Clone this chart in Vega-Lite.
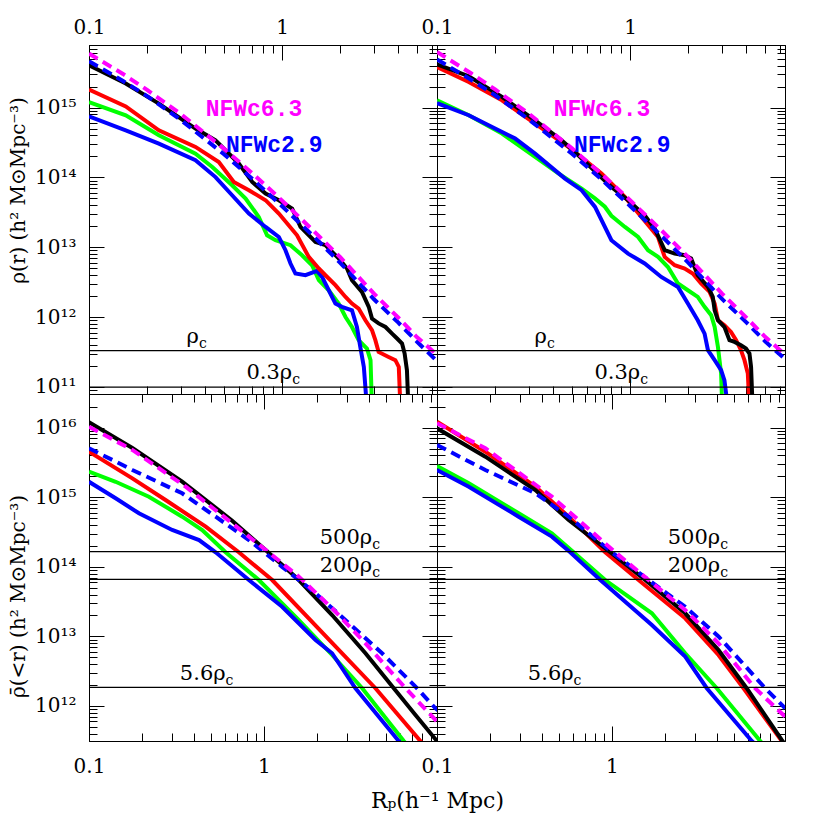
{
"$schema":"https://vega.github.io/schema/vega-lite/v6.json",
"padding":{"left":7,"top":17,"right":5,"bottom":5},
"background":"white",
"config":{
 "view":{"stroke":"black","strokeWidth":1},
 "axis":{"grid":false,"domainColor":"black","domainWidth":1,"tickColor":"black","tickWidth":1,"labelColor":"black","labelFont":"DejaVu Serif","labelFontSize":20,"titleFont":"DejaVu Serif","titleFontSize":20,"titleFontWeight":"normal","titleColor":"black"},
 "line":{"strokeWidth":4},
 "text":{"font":"DejaVu Serif","color":"black"}
},
"datasets":{
"tl":[
{"s":"g","x":0.1,"y":1.2e15},{"s":"g","x":0.155,"y":7.76e14},{"s":"g","x":0.23,"y":4.01e14},{"s":"g","x":0.356,"y":2.19e14},{"s":"g","x":0.435,"y":1.41e14},{"s":"g","x":0.551,"y":7.7e13},{"s":"g","x":0.647,"y":4.98e13},{"s":"g","x":0.757,"y":2.71e13},{"s":"g","x":0.836,"y":1.48e13},{"s":"g","x":0.924,"y":1.26e13},{"s":"g","x":1.105,"y":1.07e13},{"s":"g","x":1.268,"y":7.68e12},{"s":"g","x":1.429,"y":5.52e12},{"s":"g","x":1.549,"y":3.37e12},{"s":"g","x":1.744,"y":2.42e12},{"s":"g","x":1.963,"y":1.56e12},{"s":"g","x":2.13,"y":1.0e12},{"s":"g","x":2.3,"y":7.2e11},{"s":"g","x":2.49,"y":4.66e11},{"s":"g","x":2.75,"y":3.54e11},{"s":"g","x":2.87,"y":2.41e11},{"s":"g","x":2.92,"y":5e10},
{"s":"b","x":0.1,"y":7.5e14},{"s":"b","x":0.155,"y":4.73e14},{"s":"b","x":0.23,"y":3.05e14},{"s":"b","x":0.356,"y":1.76e14},{"s":"b","x":0.452,"y":1.01e14},{"s":"b","x":0.551,"y":5.55e13},{"s":"b","x":0.673,"y":3.03e13},{"s":"b","x":0.821,"y":1.95e13},{"s":"b","x":0.962,"y":1.4e13},{"s":"b","x":1.041,"y":9.06e12},{"s":"b","x":1.105,"y":5.84e12},{"s":"b","x":1.172,"y":4.2e12},{"s":"b","x":1.32,"y":3.97e12},{"s":"b","x":1.517,"y":4.57e12},{"s":"b","x":1.61,"y":3.75e12},{"s":"b","x":1.744,"y":2.42e12},{"s":"b","x":1.888,"y":1.56e12},{"s":"b","x":2.04,"y":1.4e12},{"s":"b","x":2.3,"y":1.25e12},{"s":"b","x":2.44,"y":7.2e11},{"s":"b","x":2.54,"y":3.73e11},{"s":"b","x":2.65,"y":1.93e11},{"s":"b","x":2.75,"y":5e10},
{"s":"r","x":0.1,"y":1.81e15},{"s":"r","x":0.155,"y":1.04e15},{"s":"r","x":0.23,"y":4.73e14},{"s":"r","x":0.356,"y":2.73e14},{"s":"r","x":0.47,"y":1.66e14},{"s":"r","x":0.562,"y":8.6e13},{"s":"r","x":0.673,"y":6.55e13},{"s":"r","x":0.821,"y":4.71e13},{"s":"r","x":0.962,"y":3.03e13},{"s":"r","x":1.195,"y":1.48e13},{"s":"r","x":1.374,"y":7.26e12},{"s":"r","x":1.549,"y":4.95e12},{"s":"r","x":1.676,"y":3.97e12},{"s":"r","x":1.888,"y":2.86e12},{"s":"r","x":2.13,"y":1.94e12},{"s":"r","x":2.3,"y":1.56e12},{"s":"r","x":2.49,"y":1.32e12},{"s":"r","x":2.7,"y":9.0e11},{"s":"r","x":2.92,"y":6.47e11},{"s":"r","x":3.04,"y":4.66e11},{"s":"r","x":3.16,"y":3.16e11},{"s":"r","x":3.56,"y":2.68e11},{"s":"r","x":3.86,"y":2.41e11},{"s":"r","x":4.02,"y":1.93e11},{"s":"r","x":4.1,"y":5e10},
{"s":"k","x":0.1,"y":4.04e15},{"s":"k","x":0.155,"y":2.21e15},{"s":"k","x":0.23,"y":1.14e15},{"s":"k","x":0.356,"y":5.0e14},{"s":"k","x":0.452,"y":3.4e14},{"s":"k","x":0.597,"y":1.58e14},{"s":"k","x":0.7,"y":8.6e13},{"s":"k","x":0.821,"y":5.87e13},{"s":"k","x":0.962,"y":4.71e13},{"s":"k","x":1.127,"y":3.58e13},{"s":"k","x":1.245,"y":1.95e13},{"s":"k","x":1.489,"y":1.19e13},{"s":"k","x":1.676,"y":1.07e13},{"s":"k","x":1.963,"y":6.9e12},{"s":"k","x":2.168,"y":4.95e12},{"s":"k","x":2.3,"y":3.37e12},{"s":"k","x":2.59,"y":2.29e12},{"s":"k","x":2.81,"y":1.4e12},{"s":"k","x":2.92,"y":9.5e11},{"s":"k","x":3.16,"y":8.1e11},{"s":"k","x":3.43,"y":7.2e11},{"s":"k","x":3.71,"y":5.8e11},{"s":"k","x":3.94,"y":4.92e11},{"s":"k","x":4.18,"y":4.18e11},{"s":"k","x":4.31,"y":3.0e11},{"s":"k","x":4.43,"y":1.73e11},{"s":"k","x":4.51,"y":5e10},
{"s":"d29","x":0.1,"y":4.6e15},{"s":"d29","x":0.15,"y":2.4e15},{"s":"d29","x":0.2,"y":1.46e15},{"s":"d29","x":0.3,"y":6.58e14},{"s":"d29","x":0.5,"y":2.15e14},{"s":"d29","x":0.7,"y":9.55e13},{"s":"d29","x":1,"y":3.86e13},{"s":"d29","x":1.5,"y":1.32e13},{"s":"d29","x":2,"y":5.97e12},{"s":"d29","x":3,"y":1.78e12},{"s":"d29","x":4,"y":8.3e11},{"s":"d29","x":5,"y":4.42e11},{"s":"d29","x":6.34,"y":2.34e11},
{"s":"d63","x":0.1,"y":5.93e15},{"s":"d63","x":0.15,"y":3.03e15},{"s":"d63","x":0.2,"y":1.79e15},{"s":"d63","x":0.3,"y":8.0e14},{"s":"d63","x":0.5,"y":2.58e14},{"s":"d63","x":0.7,"y":1.15e14},{"s":"d63","x":1,"y":4.65e13},{"s":"d63","x":1.5,"y":1.58e13},{"s":"d63","x":2,"y":7.18e12},{"s":"d63","x":3,"y":2.14e12},{"s":"d63","x":4,"y":9.77e11},{"s":"d63","x":5,"y":5.13e11},{"s":"d63","x":6.34,"y":2.88e11}
],
"tr":[
{"s":"g","x":0.1,"y":1.27e15},{"s":"g","x":0.146,"y":7.76e14},{"s":"g","x":0.217,"y":4.25e14},{"s":"g","x":0.322,"y":1.96e14},{"s":"g","x":0.425,"y":1.14e14},{"s":"g","x":0.561,"y":6.92e13},{"s":"g","x":0.657,"y":5.0e13},{"s":"g","x":0.74,"y":3.8e13},{"s":"g","x":0.8,"y":2.82e13},{"s":"g","x":0.94,"y":1.95e13},{"s":"g","x":1.1,"y":1.4e13},{"s":"g","x":1.238,"y":9.06e12},{"s":"g","x":1.395,"y":7.26e12},{"s":"g","x":1.57,"y":5.21e12},{"s":"g","x":1.769,"y":3.02e12},{"s":"g","x":1.991,"y":2.42e12},{"s":"g","x":2.24,"y":1.94e12},{"s":"g","x":2.43,"y":1.4e12},{"s":"g","x":2.63,"y":1.06e12},{"s":"g","x":2.74,"y":7.2e11},{"s":"g","x":2.85,"y":3.73e11},{"s":"g","x":2.96,"y":1.55e11},{"s":"g","x":3.0,"y":5e10},
{"s":"b","x":0.1,"y":1.16e15},{"s":"b","x":0.146,"y":7.76e14},{"s":"b","x":0.254,"y":3.6e14},{"s":"b","x":0.322,"y":2.19e14},{"s":"b","x":0.46,"y":9.6e13},{"s":"b","x":0.561,"y":6.55e13},{"s":"b","x":0.658,"y":3.78e13},{"s":"b","x":0.8,"y":1.26e13},{"s":"b","x":0.976,"y":8.1e12},{"s":"b","x":1.19,"y":5.84e12},{"s":"b","x":1.45,"y":3.75e12},{"s":"b","x":1.769,"y":2.7e12},{"s":"b","x":1.991,"y":1.56e12},{"s":"b","x":2.24,"y":9.0e11},{"s":"b","x":2.43,"y":5.8e11},{"s":"b","x":2.53,"y":3.35e11},{"s":"b","x":2.74,"y":2.41e11},{"s":"b","x":2.96,"y":1.73e11},{"s":"b","x":3.08,"y":1.24e11},{"s":"b","x":3.21,"y":5e10},
{"s":"r","x":0.1,"y":3.8e15},{"s":"r","x":0.146,"y":2.33e15},{"s":"r","x":0.217,"y":1.27e15},{"s":"r","x":0.322,"y":5.9e14},{"s":"r","x":0.479,"y":2.73e14},{"s":"r","x":0.711,"y":1.14e14},{"s":"r","x":0.939,"y":5.25e13},{"s":"r","x":1.264,"y":1.95e13},{"s":"r","x":1.395,"y":1.4e13},{"s":"r","x":1.51,"y":7.26e12},{"s":"r","x":1.702,"y":5.52e12},{"s":"r","x":1.917,"y":4.95e12},{"s":"r","x":2.11,"y":4.2e12},{"s":"r","x":2.33,"y":3.02e12},{"s":"r","x":2.58,"y":2.29e12},{"s":"r","x":2.74,"y":1.56e12},{"s":"r","x":2.85,"y":9.0e11},{"s":"r","x":3.08,"y":7.64e11},{"s":"r","x":3.33,"y":6.12e11},{"s":"r","x":3.54,"y":4.66e11},{"s":"r","x":3.75,"y":3.35e11},{"s":"r","x":3.91,"y":2.41e11},{"s":"r","x":4.07,"y":1.55e11},{"s":"r","x":4.15,"y":5e10},
{"s":"k","x":0.1,"y":4.17e15},{"s":"k","x":0.146,"y":2.81e15},{"s":"k","x":0.217,"y":1.42e15},{"s":"k","x":0.322,"y":6.58e14},{"s":"k","x":0.442,"y":3.4e14},{"s":"k","x":0.539,"y":2.07e14},{"s":"k","x":0.8,"y":7.3e13},{"s":"k","x":0.976,"y":4.71e13},{"s":"k","x":1.19,"y":2.87e13},{"s":"k","x":1.341,"y":1.85e13},{"s":"k","x":1.51,"y":9.06e12},{"s":"k","x":1.702,"y":8.1e12},{"s":"k","x":1.917,"y":7.67e12},{"s":"k","x":2.07,"y":6.89e12},{"s":"k","x":2.24,"y":3.97e12},{"s":"k","x":2.53,"y":2.7e12},{"s":"k","x":2.68,"y":1.94e12},{"s":"k","x":2.74,"y":1.25e12},{"s":"k","x":2.85,"y":9.0e11},{"s":"k","x":3.08,"y":7.2e11},{"s":"k","x":3.27,"y":4.66e11},{"s":"k","x":3.47,"y":4.4e11},{"s":"k","x":3.75,"y":3.94e11},{"s":"k","x":3.98,"y":3.54e11},{"s":"k","x":4.15,"y":3.0e11},{"s":"k","x":4.23,"y":1.93e11},{"s":"k","x":4.31,"y":5e10},
{"s":"d29","x":0.1,"y":4.9e15},{"s":"d29","x":0.15,"y":2.5e15},{"s":"d29","x":0.2,"y":1.5e15},{"s":"d29","x":0.3,"y":6.7e14},{"s":"d29","x":0.5,"y":2.18e14},{"s":"d29","x":0.7,"y":9.7e13},{"s":"d29","x":1,"y":3.9e13},{"s":"d29","x":1.5,"y":1.33e13},{"s":"d29","x":2,"y":6.0e12},{"s":"d29","x":3,"y":1.8e12},{"s":"d29","x":4,"y":8.4e11},{"s":"d29","x":5,"y":4.5e11},{"s":"d29","x":6.34,"y":2.5e11},
{"s":"d63","x":0.1,"y":6.25e15},{"s":"d63","x":0.15,"y":3.1e15},{"s":"d63","x":0.2,"y":1.82e15},{"s":"d63","x":0.3,"y":8.1e14},{"s":"d63","x":0.5,"y":2.6e14},{"s":"d63","x":0.7,"y":1.16e14},{"s":"d63","x":1,"y":4.7e13},{"s":"d63","x":1.5,"y":1.6e13},{"s":"d63","x":2,"y":7.2e12},{"s":"d63","x":3,"y":2.15e12},{"s":"d63","x":4,"y":9.8e11},{"s":"d63","x":5,"y":5.2e11},{"s":"d63","x":6.34,"y":2.9e11}
],
"bl":[
{"s":"g","x":0.1,"y":2.33e15},{"s":"g","x":0.142,"y":1.67e15},{"s":"g","x":0.22,"y":1.02e15},{"s":"g","x":0.341,"y":5.26e14},{"s":"g","x":0.444,"y":3.39e14},{"s":"g","x":0.604,"y":1.62e14},{"s":"g","x":0.936,"y":6.47e13},{"s":"g","x":1.585,"y":1.72e13},{"s":"g","x":2.455,"y":5.41e12},{"s":"g","x":3.65,"y":1.8e12},{"s":"g","x":6.31,"y":3.14e11},{"s":"g","x":7.5,"y":1.9e11},
{"s":"b","x":0.1,"y":1.67e15},{"s":"b","x":0.142,"y":9.66e14},{"s":"b","x":0.193,"y":5.89e14},{"s":"b","x":0.299,"y":3.39e14},{"s":"b","x":0.426,"y":2.43e14},{"s":"b","x":0.53,"y":1.62e14},{"s":"b","x":0.821,"y":6.47e13},{"s":"b","x":1.272,"y":2.67e13},{"s":"b","x":1.974,"y":8.89e12},{"s":"b","x":2.455,"y":5.73e12},{"s":"b","x":3.34,"y":1.8e12},{"s":"b","x":5.9,"y":3.14e11},{"s":"b","x":7,"y":1.9e11},
{"s":"r","x":0.1,"y":4.52e15},{"s":"r","x":0.177,"y":1.87e15},{"s":"r","x":0.274,"y":9.14e14},{"s":"r","x":0.465,"y":3.78e14},{"s":"r","x":0.719,"y":1.62e14},{"s":"r","x":1.116,"y":6.47e13},{"s":"r","x":2.455,"y":8.05e12},{"s":"r","x":4.345,"y":1.8e12},{"s":"r","x":7.85,"y":3.14e11},{"s":"r","x":9,"y":2.0e11},
{"s":"k","x":0.1,"y":1.2e16},{"s":"k","x":0.177,"y":5.1e15},{"s":"k","x":0.341,"y":1.68e15},{"s":"k","x":0.659,"y":4.6e14},{"s":"k","x":1.023,"y":1.75e14},{"s":"k","x":1.585,"y":6.47e13},{"s":"k","x":2.455,"y":2.03e13},{"s":"k","x":3.81,"y":5.73e12},{"s":"k","x":5.53,"y":1.8e12},{"s":"k","x":7.36,"y":7.43e11},{"s":"k","x":9.57,"y":3.33e11},{"s":"k","x":10,"y":3.0e11},
{"s":"d29","x":0.1,"y":5.06e15},{"s":"d29","x":0.177,"y":2.47e15},{"s":"d29","x":0.341,"y":1.14e15},{"s":"d29","x":0.53,"y":5.26e14},{"s":"d29","x":0.821,"y":2.43e14},{"s":"d29","x":1.272,"y":1.0e14},{"s":"d29","x":1.974,"y":4.17e13},{"s":"d29","x":3.06,"y":1.55e13},{"s":"d29","x":4.74,"y":5.73e12},{"s":"d29","x":7.36,"y":1.9e12},{"s":"d29","x":9.57,"y":9.27e11},{"s":"d29","x":10,"y":8.5e11},
{"s":"d63","x":0.1,"y":1.03e16},{"s":"d63","x":0.177,"y":4.79e15},{"s":"d63","x":0.357,"y":1.42e15},{"s":"d63","x":0.659,"y":4.23e14},{"s":"d63","x":1.023,"y":1.75e14},{"s":"d63","x":1.585,"y":7.23e13},{"s":"d63","x":2.455,"y":2.54e13},{"s":"d63","x":3.81,"y":7.96e12},{"s":"d63","x":6.46,"y":1.8e12},{"s":"d63","x":9.57,"y":6.3e11},{"s":"d63","x":10,"y":5.6e11}
],
"br":[
{"s":"g","x":0.1,"y":2.82e15},{"s":"g","x":0.152,"y":1.59e15},{"s":"g","x":0.293,"y":5.89e14},{"s":"g","x":0.454,"y":3.03e14},{"s":"g","x":0.604,"y":1.62e14},{"s":"g","x":0.916,"y":6.47e13},{"s":"g","x":1.693,"y":2.15e13},{"s":"g","x":2.626,"y":5.73e12},{"s":"g","x":3.98,"y":1.8e12},{"s":"g","x":7.05,"y":3.14e11},{"s":"g","x":8,"y":2.2e11},
{"s":"b","x":0.1,"y":2.47e15},{"s":"b","x":0.152,"y":1.42e15},{"s":"b","x":0.293,"y":5.26e14},{"s":"b","x":0.454,"y":2.72e14},{"s":"b","x":0.578,"y":1.62e14},{"s":"b","x":0.859,"y":6.47e13},{"s":"b","x":1.693,"y":1.46e13},{"s":"b","x":2.626,"y":5.12e12},{"s":"b","x":3.49,"y":1.8e12},{"s":"b","x":6.31,"y":3.14e11},{"s":"b","x":7,"y":2.5e11},
{"s":"r","x":0.1,"y":1.22e16},{"s":"r","x":0.189,"y":4.52e15},{"s":"r","x":0.365,"y":1.42e15},{"s":"r","x":0.566,"y":5.26e14},{"s":"r","x":0.916,"y":1.62e14},{"s":"r","x":1.421,"y":6.47e13},{"s":"r","x":2.626,"y":1.82e13},{"s":"r","x":4.07,"y":5.41e12},{"s":"r","x":5.66,"y":1.8e12},{"s":"r","x":9.36,"y":3.14e11},{"s":"r","x":10,"y":2.4e11},
{"s":"k","x":0.1,"y":9.8e15},{"s":"k","x":0.189,"y":3.83e15},{"s":"k","x":0.365,"y":1.27e15},{"s":"k","x":0.566,"y":4.71e14},{"s":"k","x":0.979,"y":1.62e14},{"s":"k","x":1.552,"y":6.47e13},{"s":"k","x":2.626,"y":2.15e13},{"s":"k","x":4.07,"y":6.38e12},{"s":"k","x":5.9,"y":1.8e12},{"s":"k","x":9.36,"y":3.25e11},{"s":"k","x":10,"y":2.6e11},
{"s":"d29","x":0.1,"y":5.64e15},{"s":"d29","x":0.189,"y":2.47e15},{"s":"d29","x":0.365,"y":1.14e15},{"s":"d29","x":0.566,"y":5.26e14},{"s":"d29","x":1.0,"y":1.62e14},{"s":"d29","x":1.62,"y":6.47e13},{"s":"d29","x":2.626,"y":2.67e13},{"s":"d29","x":4.07,"y":1.0e13},{"s":"d29","x":7.53,"y":1.8e12},{"s":"d29","x":9.79,"y":9.27e11},
{"s":"d63","x":0.1,"y":1.16e16},{"s":"d63","x":0.189,"y":5.06e15},{"s":"d63","x":0.454,"y":1.02e15},{"s":"d63","x":1.046,"y":1.62e14},{"s":"d63","x":1.62,"y":6.47e13},{"s":"d63","x":2.626,"y":2.4e13},{"s":"d63","x":4.07,"y":7.96e12},{"s":"d63","x":6.59,"y":1.8e12},{"s":"d63","x":9.79,"y":7.03e11}
],
"ht":[{"y":3.3e11},{"y":9.9e10}],
"hb":[{"y":1.65e14},{"y":6.6e13},{"y":1.85e12}],
"lt":[{"x":0.371,"y":4.22e11,"t":"ρ"},{"x":1.127,"y":1.31e11,"t":"0.3ρ"}],
"lb":[{"x":4.16,"y":2.13e14,"t":"500ρ"},{"x":4.16,"y":8.36e13,"t":"200ρ"},{"x":0.604,"y":2.37e12,"t":"5.6ρ"}],
"nl":[{"x":0.715,"y":7.5e14,"t":"NFWc6.3","s":"d63"},{"x":0.91,"y":2.31e14,"t":"NFWc2.9","s":"d29"}]
},
"columns":2,
"spacing":0,
"bounds":"flush",
"concat":[
 {"width":348,"height":349,"data":{"name":"tl"},
  "resolve":{"axis":{"x":"independent","y":"independent"}},
  "layer":[
   {"transform":[{"filter":"datum.s==='g'"}],"mark":{"type":"line","color":"#00ff00","clip":true},
    "encoding":{"x":{"field":"x","type":"quantitative","scale":{"type":"log","domain":[0.1,6.34],"nice":false},"axis":{"orient":"bottom","values":[0.1,1],"tickSize":-15,"labels":false,"title":null}},
     "y":{"field":"y","type":"quantitative","scale":{"type":"log","domain":[7.9e10,7.87e15],"nice":false},"axis":{"orient":"left","values":[1e11,1e12,1e13,1e14,1e15],"tickSize":-15,"labelPadding":28,"labelOverlap":false,"labelExpr":"datum.value < 5e11 ? '10¹¹' : datum.value < 5e12 ? '10¹²' : datum.value < 5e13 ? '10¹³' : datum.value < 5e14 ? '10¹⁴' : '10¹⁵'","title":"ρ(r)  (h² M⊙Mpc⁻³)","titleX":-71,"titleY":145,"titleAngle":-90,"titleBaseline":"middle","titleAlign":"center"}}}},
   {"transform":[{"filter":"datum.s==='b'"}],"mark":{"type":"line","color":"#0000ff","clip":true},
    "encoding":{"x":{"field":"x","type":"quantitative","scale":{"type":"log","domain":[0.1,6.34],"nice":false},"axis":{"orient":"bottom","values":[0.2,0.3,0.4,0.5,0.6,0.7,0.8,0.9,2,3,4,5,6],"tickSize":-8,"labels":false,"domain":false,"title":null}},
     "y":{"field":"y","type":"quantitative","scale":{"type":"log","domain":[7.9e10,7.87e15],"nice":false},"axis":{"orient":"left","values":[8e10,9e10,2e11,3e11,4e11,5e11,6e11,7e11,8e11,9e11,2e12,3e12,4e12,5e12,6e12,7e12,8e12,9e12,2e13,3e13,4e13,5e13,6e13,7e13,8e13,9e13,2e14,3e14,4e14,5e14,6e14,7e14,8e14,9e14,2e15,3e15,4e15,5e15,6e15,7e15],"tickSize":-8,"labels":false,"domain":false,"title":null}}}},
   {"transform":[{"filter":"datum.s==='r'"}],"mark":{"type":"line","color":"#ff0000","clip":true},
    "encoding":{"x":{"field":"x","type":"quantitative","scale":{"type":"log","domain":[0.1,6.34],"nice":false},"axis":{"orient":"top","values":[0.1,1],"tickSize":-15,"labelPadding":22.5,"labelFlush":false,"labelOverlap":false,"labelExpr":"datum.value < 0.5 ? '0.1' : '1'","title":null}},
     "y":{"field":"y","type":"quantitative","scale":{"type":"log","domain":[7.9e10,7.87e15],"nice":false},"axis":{"orient":"right","values":[1e11,1e12,1e13,1e14,1e15],"tickSize":-15,"labels":false,"title":null}}}},
   {"transform":[{"filter":"datum.s==='k'"}],"mark":{"type":"line","color":"#000000","clip":true},
    "encoding":{"x":{"field":"x","type":"quantitative","scale":{"type":"log","domain":[0.1,6.34],"nice":false},"axis":{"orient":"top","values":[0.2,0.3,0.4,0.5,0.6,0.7,0.8,0.9,2,3,4,5,6],"tickSize":-8,"labels":false,"domain":false,"title":null}},
     "y":{"field":"y","type":"quantitative","scale":{"type":"log","domain":[7.9e10,7.87e15],"nice":false},"axis":{"orient":"right","values":[8e10,9e10,2e11,3e11,4e11,5e11,6e11,7e11,8e11,9e11,2e12,3e12,4e12,5e12,6e12,7e12,8e12,9e12,2e13,3e13,4e13,5e13,6e13,7e13,8e13,9e13,2e14,3e14,4e14,5e14,6e14,7e14,8e14,9e14,2e15,3e15,4e15,5e15,6e15,7e15],"tickSize":-8,"labels":false,"domain":false,"title":null}}}},
   {"transform":[{"filter":"datum.s==='d29'"}],"mark":{"type":"line","color":"#0000ff","strokeDash":[10,6],"clip":true},
    "encoding":{"x":{"field":"x","type":"quantitative","scale":{"type":"log","domain":[0.1,6.34],"nice":false},"axis":null},"y":{"field":"y","type":"quantitative","scale":{"type":"log","domain":[7.9e10,7.87e15],"nice":false},"axis":null}}},
   {"transform":[{"filter":"datum.s==='d63'"}],"mark":{"type":"line","color":"#ff00ff","strokeDash":[10,6],"clip":true},
    "encoding":{"x":{"field":"x","type":"quantitative","scale":{"type":"log","domain":[0.1,6.34],"nice":false},"axis":null},"y":{"field":"y","type":"quantitative","scale":{"type":"log","domain":[7.9e10,7.87e15],"nice":false},"axis":null}}},
   {"data":{"name":"ht"},"mark":{"type":"rule","color":"black","strokeWidth":1.2},
    "encoding":{"y":{"field":"y","type":"quantitative","scale":{"type":"log","domain":[7.9e10,7.87e15],"nice":false},"axis":null}}},
   {"data":{"name":"lt"},"mark":{"type":"text","align":"right","baseline":"alphabetic","fontSize":21},
    "encoding":{"x":{"field":"x","type":"quantitative","scale":{"type":"log","domain":[0.1,6.34],"nice":false},"axis":null},"y":{"field":"y","type":"quantitative","scale":{"type":"log","domain":[7.9e10,7.87e15],"nice":false},"axis":null},"text":{"field":"t"}}},
   {"data":{"name":"lt"},"mark":{"type":"text","align":"left","baseline":"alphabetic","fontSize":14,"dy":5,"text":"c"},
    "encoding":{"x":{"field":"x","type":"quantitative","scale":{"type":"log","domain":[0.1,6.34],"nice":false},"axis":null},"y":{"field":"y","type":"quantitative","scale":{"type":"log","domain":[7.9e10,7.87e15],"nice":false},"axis":null}}},
   {"data":{"name":"nl"},"mark":{"type":"text","align":"center","baseline":"alphabetic","font":"Liberation Mono","fontWeight":"bold","fontSize":23},
    "encoding":{"x":{"field":"x","type":"quantitative","scale":{"type":"log","domain":[0.1,6.34],"nice":false},"axis":null},"y":{"field":"y","type":"quantitative","scale":{"type":"log","domain":[7.9e10,7.87e15],"nice":false},"axis":null},"text":{"field":"t"},
     "color":{"field":"s","type":"nominal","scale":{"domain":["d63","d29"],"range":["#ff00ff","#0000ff"]},"legend":null}}}
  ]},
 {"width":348,"height":349,"data":{"name":"tr"},
  "resolve":{"axis":{"x":"independent","y":"independent"}},
  "layer":[
   {"transform":[{"filter":"datum.s==='g'"}],"mark":{"type":"line","color":"#00ff00","clip":true},
    "encoding":{"x":{"field":"x","type":"quantitative","scale":{"type":"log","domain":[0.1,6.34],"nice":false},"axis":{"orient":"bottom","values":[0.1,1],"tickSize":-15,"labels":false,"title":null}},
     "y":{"field":"y","type":"quantitative","scale":{"type":"log","domain":[7.9e10,7.87e15],"nice":false},"axis":{"orient":"left","values":[1e11,1e12,1e13,1e14,1e15],"tickSize":-15,"labels":false,"title":null}}}},
   {"transform":[{"filter":"datum.s==='b'"}],"mark":{"type":"line","color":"#0000ff","clip":true},
    "encoding":{"x":{"field":"x","type":"quantitative","scale":{"type":"log","domain":[0.1,6.34],"nice":false},"axis":{"orient":"bottom","values":[0.2,0.3,0.4,0.5,0.6,0.7,0.8,0.9,2,3,4,5,6],"tickSize":-8,"labels":false,"domain":false,"title":null}},
     "y":{"field":"y","type":"quantitative","scale":{"type":"log","domain":[7.9e10,7.87e15],"nice":false},"axis":{"orient":"left","values":[8e10,9e10,2e11,3e11,4e11,5e11,6e11,7e11,8e11,9e11,2e12,3e12,4e12,5e12,6e12,7e12,8e12,9e12,2e13,3e13,4e13,5e13,6e13,7e13,8e13,9e13,2e14,3e14,4e14,5e14,6e14,7e14,8e14,9e14,2e15,3e15,4e15,5e15,6e15,7e15],"tickSize":-8,"labels":false,"domain":false,"title":null}}}},
   {"transform":[{"filter":"datum.s==='r'"}],"mark":{"type":"line","color":"#ff0000","clip":true},
    "encoding":{"x":{"field":"x","type":"quantitative","scale":{"type":"log","domain":[0.1,6.34],"nice":false},"axis":{"orient":"top","values":[0.1,1],"tickSize":-15,"labelPadding":22.5,"labelFlush":false,"labelOverlap":false,"labelExpr":"datum.value < 0.5 ? '0.1' : '1'","title":null}},
     "y":{"field":"y","type":"quantitative","scale":{"type":"log","domain":[7.9e10,7.87e15],"nice":false},"axis":{"orient":"right","values":[1e11,1e12,1e13,1e14,1e15],"tickSize":-15,"labels":false,"title":null}}}},
   {"transform":[{"filter":"datum.s==='k'"}],"mark":{"type":"line","color":"#000000","clip":true},
    "encoding":{"x":{"field":"x","type":"quantitative","scale":{"type":"log","domain":[0.1,6.34],"nice":false},"axis":{"orient":"top","values":[0.2,0.3,0.4,0.5,0.6,0.7,0.8,0.9,2,3,4,5,6],"tickSize":-8,"labels":false,"domain":false,"title":null}},
     "y":{"field":"y","type":"quantitative","scale":{"type":"log","domain":[7.9e10,7.87e15],"nice":false},"axis":{"orient":"right","values":[8e10,9e10,2e11,3e11,4e11,5e11,6e11,7e11,8e11,9e11,2e12,3e12,4e12,5e12,6e12,7e12,8e12,9e12,2e13,3e13,4e13,5e13,6e13,7e13,8e13,9e13,2e14,3e14,4e14,5e14,6e14,7e14,8e14,9e14,2e15,3e15,4e15,5e15,6e15,7e15],"tickSize":-8,"labels":false,"domain":false,"title":null}}}},
   {"transform":[{"filter":"datum.s==='d29'"}],"mark":{"type":"line","color":"#0000ff","strokeDash":[10,6],"clip":true},
    "encoding":{"x":{"field":"x","type":"quantitative","scale":{"type":"log","domain":[0.1,6.34],"nice":false},"axis":null},"y":{"field":"y","type":"quantitative","scale":{"type":"log","domain":[7.9e10,7.87e15],"nice":false},"axis":null}}},
   {"transform":[{"filter":"datum.s==='d63'"}],"mark":{"type":"line","color":"#ff00ff","strokeDash":[10,6],"clip":true},
    "encoding":{"x":{"field":"x","type":"quantitative","scale":{"type":"log","domain":[0.1,6.34],"nice":false},"axis":null},"y":{"field":"y","type":"quantitative","scale":{"type":"log","domain":[7.9e10,7.87e15],"nice":false},"axis":null}}},
   {"data":{"name":"ht"},"mark":{"type":"rule","color":"black","strokeWidth":1.2},
    "encoding":{"y":{"field":"y","type":"quantitative","scale":{"type":"log","domain":[7.9e10,7.87e15],"nice":false},"axis":null}}},
   {"data":{"name":"lt"},"mark":{"type":"text","align":"right","baseline":"alphabetic","fontSize":21},
    "encoding":{"x":{"field":"x","type":"quantitative","scale":{"type":"log","domain":[0.1,6.34],"nice":false},"axis":null},"y":{"field":"y","type":"quantitative","scale":{"type":"log","domain":[7.9e10,7.87e15],"nice":false},"axis":null},"text":{"field":"t"}}},
   {"data":{"name":"lt"},"mark":{"type":"text","align":"left","baseline":"alphabetic","fontSize":14,"dy":5,"text":"c"},
    "encoding":{"x":{"field":"x","type":"quantitative","scale":{"type":"log","domain":[0.1,6.34],"nice":false},"axis":null},"y":{"field":"y","type":"quantitative","scale":{"type":"log","domain":[7.9e10,7.87e15],"nice":false},"axis":null}}},
   {"data":{"name":"nl"},"mark":{"type":"text","align":"center","baseline":"alphabetic","font":"Liberation Mono","fontWeight":"bold","fontSize":23},
    "encoding":{"x":{"field":"x","type":"quantitative","scale":{"type":"log","domain":[0.1,6.34],"nice":false},"axis":null},"y":{"field":"y","type":"quantitative","scale":{"type":"log","domain":[7.9e10,7.87e15],"nice":false},"axis":null},"text":{"field":"t"},
     "color":{"field":"s","type":"nominal","scale":{"domain":["d63","d29"],"range":["#ff00ff","#0000ff"]},"legend":null}}}
  ]},
 {"width":348,"height":347,"data":{"name":"bl"},
  "resolve":{"axis":{"x":"independent","y":"independent"}},
  "layer":[
   {"transform":[{"filter":"datum.s==='g'"}],"mark":{"type":"line","color":"#00ff00","clip":true},
    "encoding":{"x":{"field":"x","type":"quantitative","scale":{"type":"log","domain":[0.1,9.77],"nice":false},"axis":{"orient":"bottom","values":[0.1,1],"tickSize":-15,"labelPadding":30,"labelFlush":false,"labelOverlap":false,"labelExpr":"datum.value < 0.5 ? '0.1' : '1'","title":"Rₚ(h⁻¹ Mpc)","titleFontSize":22,"titleX":348,"titleY":66,"titleBaseline":"alphabetic","titleAlign":"center"}},
     "y":{"field":"y","type":"quantitative","scale":{"type":"log","domain":[3.14e11,3.05e16],"nice":false},"axis":{"orient":"left","values":[1e12,1e13,1e14,1e15,1e16],"tickSize":-15,"labelPadding":28,"labelOverlap":false,"labelExpr":"datum.value < 5e12 ? '10¹²' : datum.value < 5e13 ? '10¹³' : datum.value < 5e14 ? '10¹⁴' : datum.value < 5e15 ? '10¹⁵' : '10¹⁶'","title":"ρ̄(<r)  (h² M⊙Mpc⁻³)","titleX":-71,"titleY":202,"titleAngle":-90,"titleBaseline":"middle","titleAlign":"center"}}}},
   {"transform":[{"filter":"datum.s==='b'"}],"mark":{"type":"line","color":"#0000ff","clip":true},
    "encoding":{"x":{"field":"x","type":"quantitative","scale":{"type":"log","domain":[0.1,9.77],"nice":false},"axis":{"orient":"bottom","values":[0.2,0.3,0.4,0.5,0.6,0.7,0.8,0.9,2,3,4,5,6,7,8,9],"tickSize":-8,"labels":false,"domain":false,"title":null}},
     "y":{"field":"y","type":"quantitative","scale":{"type":"log","domain":[3.14e11,3.05e16],"nice":false},"axis":{"orient":"left","values":[4e11,5e11,6e11,7e11,8e11,9e11,2e12,3e12,4e12,5e12,6e12,7e12,8e12,9e12,2e13,3e13,4e13,5e13,6e13,7e13,8e13,9e13,2e14,3e14,4e14,5e14,6e14,7e14,8e14,9e14,2e15,3e15,4e15,5e15,6e15,7e15,8e15,9e15,2e16,3e16],"tickSize":-8,"labels":false,"domain":false,"title":null}}}},
   {"transform":[{"filter":"datum.s==='r'"}],"mark":{"type":"line","color":"#ff0000","clip":true},
    "encoding":{"x":{"field":"x","type":"quantitative","scale":{"type":"log","domain":[0.1,9.77],"nice":false},"axis":{"orient":"top","values":[0.1,1],"tickSize":-15,"labels":false,"title":null}},
     "y":{"field":"y","type":"quantitative","scale":{"type":"log","domain":[3.14e11,3.05e16],"nice":false},"axis":{"orient":"right","values":[1e12,1e13,1e14,1e15,1e16],"tickSize":-15,"labels":false,"title":null}}}},
   {"transform":[{"filter":"datum.s==='k'"}],"mark":{"type":"line","color":"#000000","clip":true},
    "encoding":{"x":{"field":"x","type":"quantitative","scale":{"type":"log","domain":[0.1,9.77],"nice":false},"axis":{"orient":"top","values":[0.2,0.3,0.4,0.5,0.6,0.7,0.8,0.9,2,3,4,5,6,7,8,9],"tickSize":-8,"labels":false,"domain":false,"title":null}},
     "y":{"field":"y","type":"quantitative","scale":{"type":"log","domain":[3.14e11,3.05e16],"nice":false},"axis":{"orient":"right","values":[4e11,5e11,6e11,7e11,8e11,9e11,2e12,3e12,4e12,5e12,6e12,7e12,8e12,9e12,2e13,3e13,4e13,5e13,6e13,7e13,8e13,9e13,2e14,3e14,4e14,5e14,6e14,7e14,8e14,9e14,2e15,3e15,4e15,5e15,6e15,7e15,8e15,9e15,2e16,3e16],"tickSize":-8,"labels":false,"domain":false,"title":null}}}},
   {"transform":[{"filter":"datum.s==='d29'"}],"mark":{"type":"line","color":"#0000ff","strokeDash":[10,6],"clip":true},
    "encoding":{"x":{"field":"x","type":"quantitative","scale":{"type":"log","domain":[0.1,9.77],"nice":false},"axis":null},"y":{"field":"y","type":"quantitative","scale":{"type":"log","domain":[3.14e11,3.05e16],"nice":false},"axis":null}}},
   {"transform":[{"filter":"datum.s==='d63'"}],"mark":{"type":"line","color":"#ff00ff","strokeDash":[10,6],"clip":true},
    "encoding":{"x":{"field":"x","type":"quantitative","scale":{"type":"log","domain":[0.1,9.77],"nice":false},"axis":null},"y":{"field":"y","type":"quantitative","scale":{"type":"log","domain":[3.14e11,3.05e16],"nice":false},"axis":null}}},
   {"data":{"name":"hb"},"mark":{"type":"rule","color":"black","strokeWidth":1.2},
    "encoding":{"y":{"field":"y","type":"quantitative","scale":{"type":"log","domain":[3.14e11,3.05e16],"nice":false},"axis":null}}},
   {"data":{"name":"lb"},"mark":{"type":"text","align":"right","baseline":"alphabetic","fontSize":21},
    "encoding":{"x":{"field":"x","type":"quantitative","scale":{"type":"log","domain":[0.1,9.77],"nice":false},"axis":null},"y":{"field":"y","type":"quantitative","scale":{"type":"log","domain":[3.14e11,3.05e16],"nice":false},"axis":null},"text":{"field":"t"}}},
   {"data":{"name":"lb"},"mark":{"type":"text","align":"left","baseline":"alphabetic","fontSize":14,"dy":5,"text":"c"},
    "encoding":{"x":{"field":"x","type":"quantitative","scale":{"type":"log","domain":[0.1,9.77],"nice":false},"axis":null},"y":{"field":"y","type":"quantitative","scale":{"type":"log","domain":[3.14e11,3.05e16],"nice":false},"axis":null}}}
  ]},
 {"width":348,"height":347,"data":{"name":"br"},
  "resolve":{"axis":{"x":"independent","y":"independent"}},
  "layer":[
   {"transform":[{"filter":"datum.s==='g'"}],"mark":{"type":"line","color":"#00ff00","clip":true},
    "encoding":{"x":{"field":"x","type":"quantitative","scale":{"type":"log","domain":[0.1,9.77],"nice":false},"axis":{"orient":"bottom","values":[0.1,1],"tickSize":-15,"labelPadding":30,"labelFlush":false,"labelOverlap":false,"labelExpr":"datum.value < 0.5 ? '0.1' : '1'","title":null}},
     "y":{"field":"y","type":"quantitative","scale":{"type":"log","domain":[3.14e11,3.05e16],"nice":false},"axis":{"orient":"left","values":[1e12,1e13,1e14,1e15,1e16],"tickSize":-15,"labels":false,"title":null}}}},
   {"transform":[{"filter":"datum.s==='b'"}],"mark":{"type":"line","color":"#0000ff","clip":true},
    "encoding":{"x":{"field":"x","type":"quantitative","scale":{"type":"log","domain":[0.1,9.77],"nice":false},"axis":{"orient":"bottom","values":[0.2,0.3,0.4,0.5,0.6,0.7,0.8,0.9,2,3,4,5,6,7,8,9],"tickSize":-8,"labels":false,"domain":false,"title":null}},
     "y":{"field":"y","type":"quantitative","scale":{"type":"log","domain":[3.14e11,3.05e16],"nice":false},"axis":{"orient":"left","values":[4e11,5e11,6e11,7e11,8e11,9e11,2e12,3e12,4e12,5e12,6e12,7e12,8e12,9e12,2e13,3e13,4e13,5e13,6e13,7e13,8e13,9e13,2e14,3e14,4e14,5e14,6e14,7e14,8e14,9e14,2e15,3e15,4e15,5e15,6e15,7e15,8e15,9e15,2e16,3e16],"tickSize":-8,"labels":false,"domain":false,"title":null}}}},
   {"transform":[{"filter":"datum.s==='r'"}],"mark":{"type":"line","color":"#ff0000","clip":true},
    "encoding":{"x":{"field":"x","type":"quantitative","scale":{"type":"log","domain":[0.1,9.77],"nice":false},"axis":{"orient":"top","values":[0.1,1],"tickSize":-15,"labels":false,"title":null}},
     "y":{"field":"y","type":"quantitative","scale":{"type":"log","domain":[3.14e11,3.05e16],"nice":false},"axis":{"orient":"right","values":[1e12,1e13,1e14,1e15,1e16],"tickSize":-15,"labels":false,"title":null}}}},
   {"transform":[{"filter":"datum.s==='k'"}],"mark":{"type":"line","color":"#000000","clip":true},
    "encoding":{"x":{"field":"x","type":"quantitative","scale":{"type":"log","domain":[0.1,9.77],"nice":false},"axis":{"orient":"top","values":[0.2,0.3,0.4,0.5,0.6,0.7,0.8,0.9,2,3,4,5,6,7,8,9],"tickSize":-8,"labels":false,"domain":false,"title":null}},
     "y":{"field":"y","type":"quantitative","scale":{"type":"log","domain":[3.14e11,3.05e16],"nice":false},"axis":{"orient":"right","values":[4e11,5e11,6e11,7e11,8e11,9e11,2e12,3e12,4e12,5e12,6e12,7e12,8e12,9e12,2e13,3e13,4e13,5e13,6e13,7e13,8e13,9e13,2e14,3e14,4e14,5e14,6e14,7e14,8e14,9e14,2e15,3e15,4e15,5e15,6e15,7e15,8e15,9e15,2e16,3e16],"tickSize":-8,"labels":false,"domain":false,"title":null}}}},
   {"transform":[{"filter":"datum.s==='d29'"}],"mark":{"type":"line","color":"#0000ff","strokeDash":[10,6],"clip":true},
    "encoding":{"x":{"field":"x","type":"quantitative","scale":{"type":"log","domain":[0.1,9.77],"nice":false},"axis":null},"y":{"field":"y","type":"quantitative","scale":{"type":"log","domain":[3.14e11,3.05e16],"nice":false},"axis":null}}},
   {"transform":[{"filter":"datum.s==='d63'"}],"mark":{"type":"line","color":"#ff00ff","strokeDash":[10,6],"clip":true},
    "encoding":{"x":{"field":"x","type":"quantitative","scale":{"type":"log","domain":[0.1,9.77],"nice":false},"axis":null},"y":{"field":"y","type":"quantitative","scale":{"type":"log","domain":[3.14e11,3.05e16],"nice":false},"axis":null}}},
   {"data":{"name":"hb"},"mark":{"type":"rule","color":"black","strokeWidth":1.2},
    "encoding":{"y":{"field":"y","type":"quantitative","scale":{"type":"log","domain":[3.14e11,3.05e16],"nice":false},"axis":null}}},
   {"data":{"name":"lb"},"mark":{"type":"text","align":"right","baseline":"alphabetic","fontSize":21},
    "encoding":{"x":{"field":"x","type":"quantitative","scale":{"type":"log","domain":[0.1,9.77],"nice":false},"axis":null},"y":{"field":"y","type":"quantitative","scale":{"type":"log","domain":[3.14e11,3.05e16],"nice":false},"axis":null},"text":{"field":"t"}}},
   {"data":{"name":"lb"},"mark":{"type":"text","align":"left","baseline":"alphabetic","fontSize":14,"dy":5,"text":"c"},
    "encoding":{"x":{"field":"x","type":"quantitative","scale":{"type":"log","domain":[0.1,9.77],"nice":false},"axis":null},"y":{"field":"y","type":"quantitative","scale":{"type":"log","domain":[3.14e11,3.05e16],"nice":false},"axis":null}}}
  ]}
]
}
